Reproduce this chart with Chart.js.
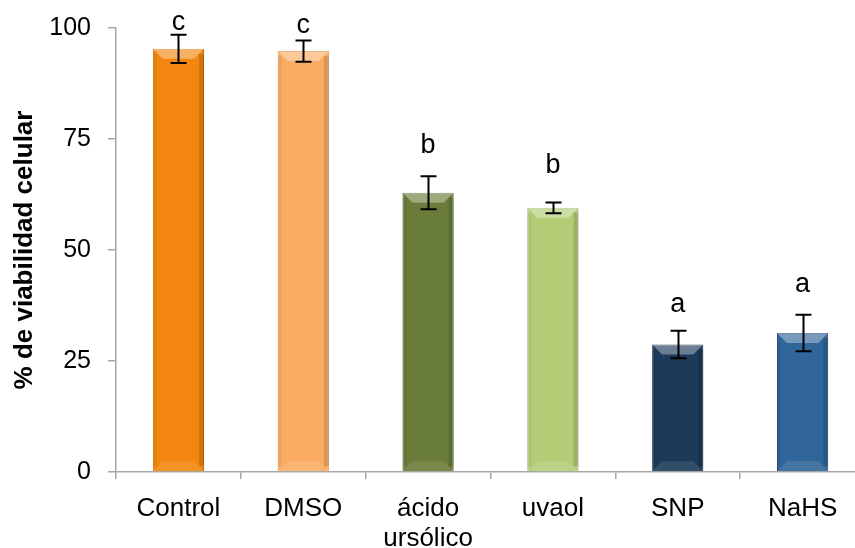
<!DOCTYPE html>
<html>
<head>
<meta charset="utf-8">
<script src="https://cdn.jsdelivr.net/npm/chart.js@4.4.0/dist/chart.umd.min.js"></script>
<style>
  html, body { margin: 0; padding: 0; background: #fff; overflow: hidden; }
  #wrap { width: 866px; height: 548px; }
</style>
</head>
<body>
<div id="wrap"><canvas id="viabilidad" width="866" height="548"></canvas></div>
<script>
// data
const categories = ['Control', 'DMSO', ['ácido', 'ursólico'], 'uvaol', 'SNP', 'NaHS'];
const viability = [95.3, 94.8, 62.9, 59.5, 28.7, 31.3];
const errors = [3.2, 2.4, 3.7, 1.2, 3.1, 4.1];
const letters = ['c', 'c', 'b', 'b', 'a', 'a'];
const letterAt = [99.5, 98.9, 71.8, 67.3, 36.0, 40.5];
const yTicks = [0, 25, 50, 75, 100];

const barColors = ['#F2860F', '#FBAC62', '#6A7C3A', '#B2CD75', '#1C3A59', '#31669A'];
const barBorders = ['#C96C08', '#D98E4C', '#51602A', '#8FA85C', '#10263D', '#24507A'];

const FONT = "'Liberation Sans', Arial, sans-serif";

// bevel look like the excel bars
const bevelPlugin = {
    id: 'bevel',
    afterDatasetsDraw(chart) {
        const ctx = chart.ctx;
        const meta = chart.getDatasetMeta(0);
        ctx.save();
        meta.data.forEach(bar => {
            const w = bar.width, l = bar.x - w / 2, r = bar.x + w / 2;
            const t = bar.y, b = bar.base, bv = 10;
            ctx.fillStyle = 'rgba(255,255,255,0.35)';
            ctx.beginPath();
            ctx.moveTo(l, t); ctx.lineTo(r, t); ctx.lineTo(r - bv, t + bv); ctx.lineTo(l + bv, t + bv);
            ctx.closePath(); ctx.fill();
            ctx.fillStyle = 'rgba(255,255,255,0.10)';
            ctx.beginPath();
            ctx.moveTo(l, b); ctx.lineTo(r, b); ctx.lineTo(r - bv, b - bv); ctx.lineTo(l + bv, b - bv);
            ctx.closePath(); ctx.fill();
            ctx.fillStyle = 'rgba(0,0,0,0.13)';
            ctx.fillRect(r - 5, t + 5, 5, b - t - 10);
            ctx.fillStyle = 'rgba(0,0,0,0.05)';
            ctx.fillRect(l, t + 5, 4, b - t - 10);
        });
        ctx.restore();
    }
};

const errorBarPlugin = {
    id: 'errorBars',
    afterDatasetsDraw(chart) {
        const ctx = chart.ctx;
        const yScale = chart.scales.y;
        const meta = chart.getDatasetMeta(0);
        ctx.save();
        ctx.strokeStyle = '#000';
        ctx.lineWidth = 2;
        meta.data.forEach((bar, i) => {
            const top = yScale.getPixelForValue(viability[i] + errors[i]);
            const bot = yScale.getPixelForValue(viability[i] - errors[i]);
            const x = Math.round(bar.x) + 0.5, cap = 8;
            ctx.beginPath();
            ctx.moveTo(x, top); ctx.lineTo(x, bot);
            ctx.moveTo(x - cap, top); ctx.lineTo(x + cap, top);
            ctx.moveTo(x - cap, bot); ctx.lineTo(x + cap, bot);
            ctx.stroke();
        });
        // significance letters
        ctx.fillStyle = '#000';
        ctx.font = '27px ' + FONT;
        ctx.textAlign = 'center';
        ctx.textBaseline = 'alphabetic';
        meta.data.forEach((bar, i) => {
            ctx.fillText(letters[i], bar.x, yScale.getPixelForValue(letterAt[i]));
        });
        ctx.restore();
    }
};

const ctx = document.getElementById('viabilidad');
new Chart(ctx, {
    type: 'bar',
    data: {
        labels: categories,
        datasets: [{
            data: viability,
            backgroundColor: barColors,
            borderColor: barBorders,
            borderWidth: 1,
            categoryPercentage: 1,
            barPercentage: 0.41
        }]
    },
    options: {
        responsive: false,
        animation: false,
        layout: { padding: { top: 28, left: 0, right: 1, bottom: 0 } },
        plugins: { legend: { display: false }, tooltip: { enabled: false } },
        scales: {
            x: {
                border: { color: '#A6A6A6', width: 1.5 },
                grid: { drawOnChartArea: false, color: '#A6A6A6', tickLength: 7, lineWidth: 1.5 },
                ticks: { color: '#000', font: { family: FONT, size: 26, lineHeight: 1.18 }, padding: 14, maxRotation: 0 },
                afterFit: s => { s.height = 76; }
            },
            y: {
                min: 0,
                max: 100,
                afterBuildTicks: s => { s.ticks = yTicks.map(v => ({ value: v })); },
                border: { color: '#A6A6A6', width: 1.5 },
                grid: { drawOnChartArea: false, color: '#A6A6A6', tickLength: 8, lineWidth: 1.5 },
                ticks: { color: '#000', font: { family: FONT, size: 25 }, padding: 17 },
                title: {
                    display: true,
                    text: '% de viabilidad celular',
                    color: '#000',
                    font: { family: FONT, size: 26, weight: 'bold' },
                    padding: { top: 9, bottom: 0 }
                },
                afterFit: s => {
                    s.width = 116;
                    s.paddingTop = 10;
                    s.paddingBottom = 10;
                }
            }
        }
    },
    plugins: [bevelPlugin, errorBarPlugin]
});
</script>
</body>
</html>
